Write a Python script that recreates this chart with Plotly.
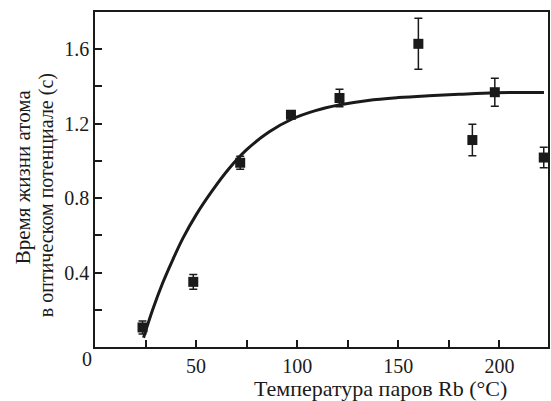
import plotly.graph_objects as go

# Measured points
temp = [23.5, 48.6, 71.8, 96.9, 120.9, 159.9, 186.6, 197.7, 221.9]
lifetime = [0.105, 0.35, 0.99, 1.248, 1.338, 1.629, 1.112, 1.369, 1.018]
err = [0.035, 0.04, 0.035, 0.02, 0.047, 0.137, 0.085, 0.075, 0.055]

# Fit curve
fit_x = [24, 28.5, 33.5, 38.5, 43.5, 50, 58, 66, 75, 86, 97.5, 109, 120.5, 135, 150, 165, 180, 198, 222]
fit_y = [0.05, 0.2, 0.345, 0.47, 0.585, 0.71, 0.84, 0.955, 1.06, 1.155, 1.225, 1.27, 1.3, 1.325, 1.34, 1.35, 1.358, 1.366, 1.368]

x_ticks = [50, 100, 150, 200]
y_ticks = [0.4, 0.8, 1.2, 1.6]
y_tick_labels = ["0.4", "0.8", "1.2", "1.6"]

ink = "#1a1a1a"
font_family = "Liberation Serif, Times New Roman, serif"

fig = go.Figure()
fig.add_trace(go.Scatter(
    x=fit_x, y=fit_y, mode="lines",
    line=dict(color=ink, width=3, shape="spline", smoothing=1.0),
    hoverinfo="skip", showlegend=False,
))
fig.add_trace(go.Scatter(
    x=temp, y=lifetime, mode="markers",
    marker=dict(symbol="square", size=10, color=ink),
    error_y=dict(type="data", array=err, visible=True, color=ink, thickness=1.5, width=4),
    showlegend=False,
))

axis_common = dict(
    showline=True, linecolor=ink, linewidth=1.5, mirror=True,
    ticks="inside", ticklen=7, tickwidth=1.5, tickcolor=ink,
    showgrid=False, zeroline=False,
    tickfont=dict(family=font_family, size=20, color=ink),
)

fig.update_xaxes(
    range=[0, 224], tickvals=x_ticks, ticktext=[str(v) for v in x_ticks],
    minor=dict(ticks="inside", ticklen=7, tickwidth=1.5, tickcolor=ink, tickvals=[25, 75, 125, 175, 225]),
    ticklabelstandoff=0,
    **axis_common,
)
fig.update_yaxes(
    range=[0, 1.8], tickvals=y_ticks, ticktext=y_tick_labels,
    minor=dict(ticks="inside", ticklen=7, tickwidth=1.5, tickcolor=ink, tickvals=[0.2, 0.6, 1.0, 1.4]),
    **axis_common,
)

W_PLOT = 455.0
H_PLOT = 335.0
L = 95.0
T = 12.0

def px_x(p):
    return (p - L) / W_PLOT

def px_y(p):
    return (T + H_PLOT - p) / H_PLOT

fig.update_layout(
    width=551, height=401,
    margin=dict(l=95, r=1, t=12, b=54),
    paper_bgcolor="white", plot_bgcolor="white",
    font=dict(family=font_family, color=ink),
    annotations=[
        dict(text="0", xref="paper", yref="paper", x=px_x(87), y=px_y(359),
             xanchor="center", yanchor="middle", showarrow=False,
             font=dict(family=font_family, size=20, color=ink)),
        dict(text="Температура паров Rb (°C)", xref="paper", yref="paper",
             x=px_x(382), y=px_y(388), xanchor="center", yanchor="middle", showarrow=False,
             font=dict(family=font_family, size=22, color=ink)),
        dict(text="Время жизни атома", xref="paper", yref="paper",
             x=px_x(23), y=px_y(177), xanchor="center", yanchor="middle", textangle=-90, showarrow=False,
             font=dict(family=font_family, size=21, color=ink)),
        dict(text="в оптическом потенциале (с)", xref="paper", yref="paper",
             x=px_x(46), y=px_y(195), xanchor="center", yanchor="middle", textangle=-90, showarrow=False,
             font=dict(family=font_family, size=20, color=ink)),
    ],
)

fig.write_html("out.html")
